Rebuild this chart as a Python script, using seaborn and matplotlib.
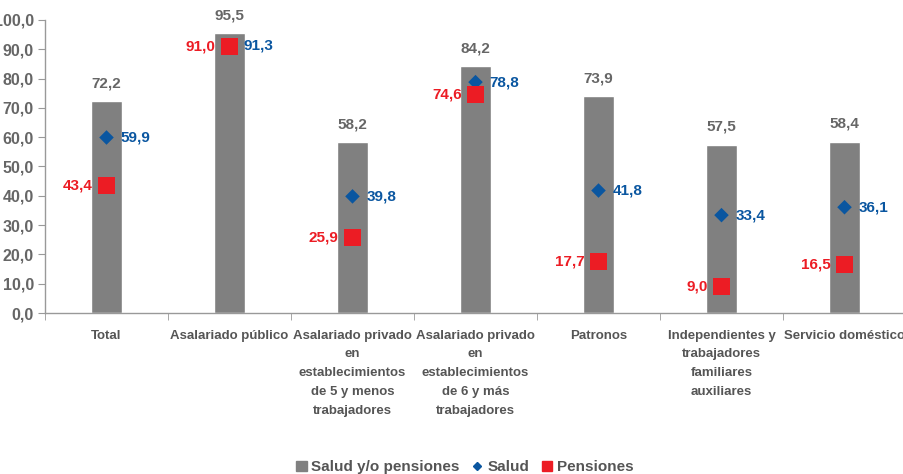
import matplotlib
matplotlib.use('Agg')
import matplotlib.pyplot as plt
import numpy as np
import pandas as pd
import seaborn as sns
from matplotlib.lines import Line2D
from matplotlib.patches import Patch

CATEGORIES = ['Total', 'Asalariado público',
              'Asalariado privado\nen\nestablecimientos\nde 5 y menos\ntrabajadores',
              'Asalariado privado\nen\nestablecimientos\nde 6 y más\ntrabajadores',
              'Patronos',
              'Independientes y\ntrabajadores\nfamiliares\nauxiliares',
              'Servicio doméstico']
SALUD_O_PENSIONES = [72.2, 95.5, 58.2, 84.2, 73.9, 57.5, 58.4]
SALUD = [59.9, 91.3, 39.8, 78.8, 41.8, 33.4, 36.1]
PENSIONES = [43.4, 91.0, 25.9, 74.6, 17.7, 9.0, 16.5]
YTICKS = list(range(0, 101, 10))

GRAY = '#808080'
BLUE = '#0a56a0'
RED = '#ec1c24'
TXT = '#666666'
FONT = 'Liberation Sans'


def fmt(v):
    return f'{v:.1f}'.replace('.', ',')


def main():
    sns.set_style('white')
    plt.rcParams['font.family'] = [FONT, 'DejaVu Sans']

    df = pd.DataFrame({'cat': CATEGORIES, 'total': SALUD_O_PENSIONES,
                       'salud': SALUD, 'pens': PENSIONES})

    fig = plt.figure(figsize=(9.04, 4.74), dpi=100)
    ax = fig.add_axes([45 / 904, 161 / 474, 861 / 904, 293 / 474])

    sns.barplot(data=df, x='cat', y='total', color=GRAY, width=0.25,
                saturation=1, ax=ax)
    sns.scatterplot(data=df, x='cat', y='salud', marker='D', color=BLUE,
                    s=55, edgecolor='none', ax=ax, zorder=3)
    sns.scatterplot(data=df, x='cat', y='pens', marker='s', color=RED,
                    s=150, edgecolor='none', ax=ax, zorder=4)

    lab = dict(textcoords='offset points', fontsize=11, fontweight='bold')
    for i in range(len(CATEGORIES)):
        ax.annotate(fmt(SALUD_O_PENSIONES[i]), (i, SALUD_O_PENSIONES[i]),
                    xytext=(0, 8), ha='center', va='bottom', color=TXT, **lab)
        ax.annotate(fmt(SALUD[i]), (i, SALUD[i]), xytext=(10, 0),
                    ha='left', va='center', color=BLUE, **lab)
        ax.annotate(fmt(PENSIONES[i]), (i, PENSIONES[i]), xytext=(-10, 0),
                    ha='right', va='center', color=RED, **lab)

    ax.set_xlim(-0.5, len(CATEGORIES) - 0.5)
    ax.set_ylim(0, 100)
    ax.set_yticks(YTICKS)
    ax.set_yticklabels([fmt(t) for t in YTICKS], color=TXT, fontsize=11.5,
                       fontweight='bold')
    ax.set_xticks(range(len(CATEGORIES)))
    ax.set_xticklabels(CATEGORIES, color='#555555', fontsize=9.5,
                       fontweight='bold', linespacing=1.75, va='top')
    ax.tick_params(axis='x', length=0, pad=12)
    ax.tick_params(axis='y', length=5, color='#999999', direction='out',
                   left=True, pad=3)
    # separator ticks between categories
    ax.set_xticks(np.arange(-0.5, len(CATEGORIES), 1), minor=True)
    ax.tick_params(axis='x', which='minor', length=5, color='#999999',
                   direction='out', bottom=True)
    ax.set_xlabel('')
    ax.set_ylabel('')
    for s in ['top', 'right']:
        ax.spines[s].set_visible(False)
    for s in ['left', 'bottom']:
        ax.spines[s].set_color('#999999')
        ax.spines[s].set_linewidth(1)

    handles = [Patch(color=GRAY, label='Salud y/o pensiones'),
               Line2D([], [], marker='D', color=BLUE, ls='none', markersize=4,
                      label='Salud'),
               Line2D([], [], marker='s', color=RED, ls='none', markersize=7,
                      label='Pensiones')]
    fig.legend(handles=handles, loc='center', bbox_to_anchor=(0.514, 0.014),
               ncol=3, frameon=False, handlelength=0.7, handletextpad=0.3,
               columnspacing=0.8,
               prop={'size': 11, 'weight': 'bold'}, labelcolor='#555555')

    fig.savefig('out.png', dpi=100)


if __name__ == '__main__':
    main()
